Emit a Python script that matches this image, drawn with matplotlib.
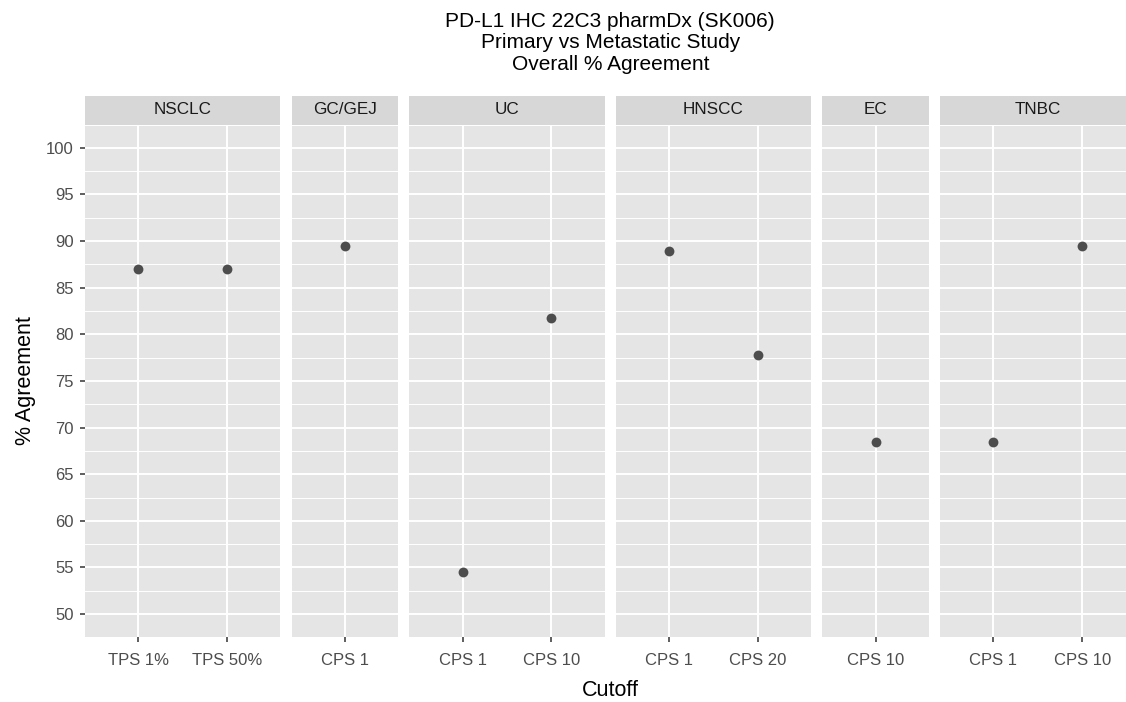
import matplotlib
matplotlib.use("Agg")
import matplotlib.pyplot as plt
from matplotlib.ticker import MultipleLocator

plt.rcParams['font.family'] = ['Liberation Sans', 'DejaVu Sans']

# Data
facets = ["NSCLC", "GC/GEJ", "UC", "HNSCC", "EC", "TNBC"]
cutoff = ["TPS 1%", "TPS 50%", "CPS 1", "CPS 1", "CPS 10", "CPS 1", "CPS 20",
          "CPS 10", "CPS 1", "CPS 10"]
facet_of = ["NSCLC", "NSCLC", "GC/GEJ", "UC", "UC", "HNSCC", "HNSCC",
            "EC", "TNBC", "TNBC"]
agreement = [87.0, 87.0, 89.5, 54.5, 81.8, 88.9, 77.8, 68.4, 68.4, 89.5]
yticks = [50, 55, 60, 65, 70, 75, 80, 85, 90, 95, 100]

W, H = 1126, 702
fig = plt.figure(figsize=(W / 100, H / 100), dpi=100)

# layout in pixels (ggplot facet_grid with space = "free_x")
left_px = 85
unit_px = 88.8
gap_px = 11.2
top_px = 124.5
bottom_px = 637.4
strip_h = 29.0

panel_bg = "#E5E5E5"
strip_bg = "#D7D7D7"
tick_col = "#4D4D4D"

x0 = left_px
for i, fac in enumerate(facets):
    labs = [c for c, f in zip(cutoff, facet_of) if f == fac]
    vals = [v for v, f in zip(agreement, facet_of) if f == fac]
    n = len(labs)
    w = unit_px * (n + 0.2)
    ax = fig.add_axes([x0 / W, 1 - bottom_px / H, w / W, (bottom_px - top_px) / H])
    ax.set_facecolor(panel_bg)
    for s in ax.spines.values():
        s.set_visible(False)
    ax.set_xlim(-0.6, n - 0.4)
    ax.set_ylim(47.5, 102.5)
    ax.set_xticks(range(n))
    ax.set_xticklabels(labs)
    ax.set_yticks(yticks)
    ax.yaxis.set_minor_locator(MultipleLocator(2.5))
    ax.grid(which="major", color="white", linewidth=1.4)
    ax.grid(which="minor", axis="y", color="white", linewidth=0.7)
    ax.set_axisbelow(True)
    ax.tick_params(axis="both", which="major", length=3.6, width=1.1,
                   color="#333333", labelcolor=tick_col, labelsize=12)
    ax.tick_params(axis="x", which="major", pad=7.5)
    ax.tick_params(axis="y", which="major", pad=4.5)
    ax.tick_params(axis="y", which="minor", length=0)
    if i > 0:
        ax.tick_params(axis="y", which="major", left=False, labelleft=False)
    ax.scatter(range(n), vals, s=50, color="#4D4D4D", zorder=3, linewidths=0)

    # strip
    sax = fig.add_axes([x0 / W, 1 - top_px / H, w / W, strip_h / H])
    sax.set_facecolor(strip_bg)
    sax.set_xticks([])
    sax.set_yticks([])
    for s in sax.spines.values():
        s.set_visible(False)
    sax.text(0.5, 0.5, fac, ha="center", va="center", fontsize=12.3,
             color="#1A1A1A", transform=sax.transAxes)
    x0 += w + gap_px

center_x = (left_px + (x0 - gap_px)) / 2 / W
fig.text(center_x, 1 - 43 / H,
         "PD-L1 IHC 22C3 pharmDx (SK006)\nPrimary vs Metastatic Study\nOverall % Agreement",
         ha="center", va="center", fontsize=15, linespacing=1.15)
fig.text(center_x, 1 - 690 / H, "Cutoff", ha="center", va="center", fontsize=15.5)
fig.text(25 / W, 1 - (top_px + bottom_px) / 2 / H, "% Agreement", rotation=90,
         ha="center", va="center", fontsize=15.5)

fig.savefig("out.png", dpi=100, facecolor="white")
